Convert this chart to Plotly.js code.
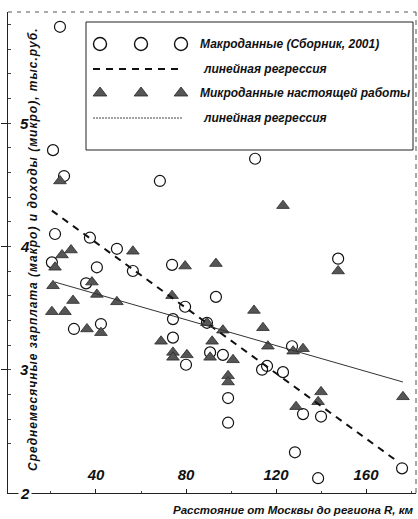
<!DOCTYPE html>
<html>
<head>
<meta charset="utf-8">
<script src="https://cdn.plot.ly/plotly-3.0.1.min.js"></script>
<style>html,body{margin:0;padding:0;background:#fff;}#chart{width:418px;height:519px;}</style>
</head>
<body>
<div id="chart"></div>
<script>
// ---- data ----
const macroX = [24, 20.9, 110.7, 25.8, 68.4, 21.8, 37.3, 49.3, 20.4, 40.4, 56.4, 73.8, 147.6, 35.6, 93.3, 79.6, 74.2, 89.3, 30.2, 42.2, 74.2, 127.1, 80, 90.7, 96.4, 116, 113.8, 123.1, 98.7, 98.7, 132, 140, 128.4, 138.7, 176];
const macroY = [5.78, 4.78, 4.71, 4.57, 4.53, 4.10, 4.07, 3.98, 3.87, 3.83, 3.80, 3.85, 3.90, 3.70, 3.59, 3.51, 3.41, 3.38, 3.33, 3.37, 3.26, 3.19, 3.04, 3.14, 3.12, 3.03, 3.00, 2.98, 2.77, 2.57, 2.64, 2.62, 2.33, 2.12, 2.20];
const microX = [24, 123.1, 56.4, 24.9, 28.9, 21.8, 79.6, 93.3, 147.6, 38.2, 20.9, 40.4, 73.8, 29.8, 49.3, 20.4, 26.2, 110.2, 89.3, 96.4, 36, 42.2, 114.2, 68.9, 91.6, 116.4, 132, 74.2, 74.2, 80.4, 90.7, 100.9, 127.6, 98.7, 98.7, 140, 138.7, 128.9, 176.4];
const microY = [4.53, 4.33, 3.96, 3.93, 3.97, 3.83, 3.84, 3.86, 3.80, 3.71, 3.68, 3.61, 3.60, 3.56, 3.55, 3.47, 3.47, 3.48, 3.38, 3.32, 3.33, 3.30, 3.34, 3.23, 3.23, 3.19, 3.17, 3.14, 3.10, 3.12, 3.10, 3.08, 3.15, 2.95, 2.90, 2.82, 2.74, 2.70, 2.78];
const macroFitX = [20.4, 172.9];
const macroFitY = [4.29, 2.27];
const microFitX = [21.8, 176.4];
const microFitY = [3.71, 2.90];
const xTickVals = [40, 80, 120, 160];
const yTickVals = [2, 3, 4, 5];
const legendLabels = ["Макроданные (Сборник, 2001)", "линейная регрессия", "Микроданные настоящей работы", "линейная регрессия"];
const xTitle = "Расстояние от Москвы до региона R, км";
const yTitle = "Среднемесячные зарплата (макро) и доходы (микро), тыс.руб.";

// ---- styles / layout (pixel-based legend layout on an overlay axis) ----
const wide = "Liberation Sans, Arial, sans-serif";
const triColor = "#555";
const legSwatchX = [100, 141, 181];
const legRowY = [44, 69, 93, 118];

const traces = [
  {x: macroX, y: macroY, type: "scatter", mode: "markers",
   marker: {symbol: "circle-open", size: 11, color: "#111", line: {width: 1.2, color: "#111"}}},
  {x: microX, y: microY, type: "scatter", mode: "markers",
   marker: {symbol: "triangle-up", size: 11, color: triColor, line: {width: 0.8, color: "#2a2a2a"}}},
  {x: macroFitX, y: macroFitY, type: "scatter", mode: "lines",
   line: {color: "#111", width: 2, dash: "7px,6px"}},
  {x: microFitX, y: microFitY, type: "scatter", mode: "lines",
   line: {color: "#333", width: 1, dash: "solid"}},
  // legend swatches (overlay axis in pixel units)
  {x: legSwatchX, y: [legRowY[0], legRowY[0], legRowY[0]], xaxis: "x2", yaxis: "y2", type: "scatter", mode: "markers",
   marker: {symbol: "circle-open", size: 13, color: "#111", line: {width: 1.4, color: "#111"}}},
  {x: legSwatchX, y: [legRowY[2], legRowY[2], legRowY[2]], xaxis: "x2", yaxis: "y2", type: "scatter", mode: "markers",
   marker: {symbol: "triangle-up", size: 12, color: triColor, line: {width: 0.8, color: "#2a2a2a"}}},
  {x: [93, 180], y: [legRowY[1], legRowY[1]], xaxis: "x2", yaxis: "y2", type: "scatter", mode: "lines",
   line: {color: "#111", width: 2, dash: "7px,6px"}},
  {x: [93, 182], y: [legRowY[3], legRowY[3]], xaxis: "x2", yaxis: "y2", type: "scatter", mode: "lines",
   line: {color: "#444", width: 1, dash: "2px,1px"}}
];

const legTextX = [198, 201, 198, 201];
const annotations = legendLabels.map((t, i) => ({
  x: legTextX[i], y: legRowY[i], xref: "x2", yref: "y2", xanchor: "left", yanchor: "middle",
  text: "<b><i>" + t + "</i></b>", showarrow: false,
  font: {family: wide, size: 12, color: "#111"}
}));
annotations.push({
  x: 1, y: -0.036, xref: "paper", yref: "paper", xanchor: "right", yanchor: "middle",
  text: "<b><i>" + xTitle + "</i></b>", showarrow: false,
  font: {family: wide, size: 11.5, color: "#111"}
});
annotations.push({
  x: 33, y: 250, xref: "x2", yref: "y2", xanchor: "center", yanchor: "middle", textangle: -90,
  text: "<b><i>" + yTitle.split("").join("\u200A") + "</i></b>", showarrow: false,
  font: {family: wide, size: 12, color: "#111"}
});
// y tick labels, drawn inside the plot at their data values
yTickVals.forEach(v => annotations.push({
  x: 0.025, y: v, xref: "paper", yref: "y", xanchor: "left", yanchor: "middle",
  text: "<b><i>" + v + "</i></b>", showarrow: false,
  font: {family: wide, size: 15, color: "#111"}, bgcolor: v === yTickVals[0] ? "#fff" : "rgba(0,0,0,0)"
}));

const layout = {
  width: 418, height: 519,
  margin: {l: 8, r: 2, t: 12, b: 26, pad: 0},
  paper_bgcolor: "#fff", plot_bgcolor: "#fff",
  showlegend: false,
  xaxis: {
    range: [0.9, 182.2], tickvals: xTickVals, ticktext: xTickVals.map(String),
    ticks: "inside", ticklen: 4, tickcolor: "#222", ticklabelposition: "inside",
    ticklabelstandoff: 6,
    showgrid: false, zeroline: false, showline: true, linecolor: "#222", linewidth: 1.2,
    minor: {dtick: 20, tick0: 0, ticks: "inside", ticklen: 2, tickcolor: "#444"},
    tickfont: {family: wide, size: 15, color: "#111", weight: "bold", style: "italic"}
  },
  yaxis: {
    range: [2, 5.9], tickvals: yTickVals, showticklabels: false,
    ticks: "outside", ticklen: 6, tickcolor: "#222",
    showgrid: false, zeroline: false, showline: true, linecolor: "#222", linewidth: 1.4,
    minor: {dtick: 0.2, tick0: 2, ticks: "inside", ticklen: 3, tickcolor: "#444"}
  },
  xaxis2: {overlaying: "x", range: [8, 416], visible: false, fixedrange: true},
  yaxis2: {overlaying: "y", range: [493, 12], visible: false, fixedrange: true},
  shapes: [
    {type: "line", xref: "paper", yref: "paper", x0: 0, x1: 1, y0: 1, y1: 1,
     line: {color: "#555", width: 1, dash: "4px,5px"}},
    {type: "line", xref: "paper", yref: "paper", x0: 1, x1: 1, y0: 0, y1: 1,
     line: {color: "#555", width: 1, dash: "5px,4px"}},
    {type: "rect", xref: "x2", yref: "y2", x0: 86, x1: 413, y0: 22, y1: 150,
     line: {color: "#222", width: 1}, fillcolor: "rgba(255,255,255,0)"}
  ],
  annotations: annotations
};

Plotly.newPlot("chart", traces, layout, {staticPlot: true, displayModeBar: false});
</script>
</body>
</html>
